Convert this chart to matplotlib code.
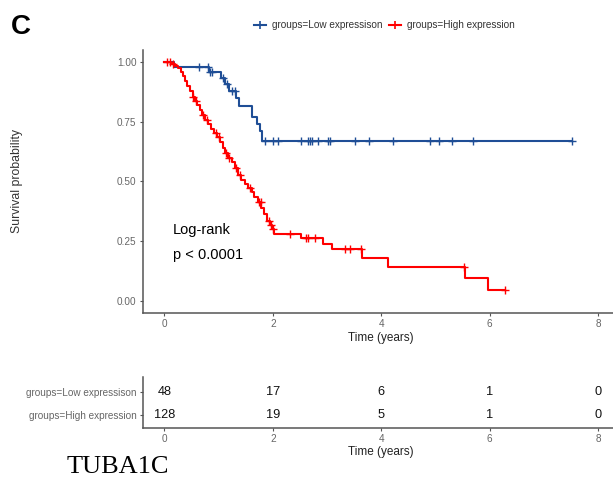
import numpy as np
import matplotlib.pyplot as plt
from matplotlib.lines import Line2D

# Kaplan-Meier steps (time in years, survival after step)
low_t = [0, 0.18, 0.82, 1.05, 1.11, 1.20, 1.33, 1.37, 1.61, 1.70, 1.76, 1.81, 7.53]
low_s = [1.0, 0.979, 0.958, 0.935, 0.91, 0.88, 0.85, 0.815, 0.77, 0.74, 0.71, 0.67, 0.67]
low_cens = [0.63, 0.81, 0.84, 0.87, 1.08, 1.15, 1.25, 1.30, 1.86, 2.01, 2.09, 2.52, 2.65,
            2.69, 2.73, 2.84, 3.02, 3.06, 3.52, 3.78, 4.22, 4.91, 5.07, 5.31, 5.70, 7.53]

high_t = [0, 0.12, 0.20, 0.25, 0.30, 0.34, 0.38, 0.42, 0.47, 0.52, 0.56, 0.60, 0.65, 0.70,
          0.75, 0.80, 0.86, 0.92, 0.98, 1.03, 1.08, 1.12, 1.18, 1.24, 1.30, 1.36, 1.42,
          1.48, 1.55, 1.61, 1.66, 1.72, 1.79, 1.84, 1.90, 1.95, 1.99, 2.03, 2.52, 2.92,
          3.10, 3.64, 4.13, 5.55, 5.98, 6.28]
high_s = [1.0, 0.992, 0.984, 0.976, 0.96, 0.944, 0.92, 0.90, 0.878, 0.856, 0.838, 0.82,
          0.80, 0.78, 0.76, 0.742, 0.722, 0.703, 0.686, 0.665, 0.642, 0.62, 0.60, 0.58,
          0.556, 0.528, 0.507, 0.49, 0.472, 0.456, 0.436, 0.412, 0.388, 0.362, 0.336,
          0.316, 0.30, 0.281, 0.265, 0.239, 0.215, 0.18, 0.143, 0.096, 0.046, 0.046]
high_cens = [0.05, 0.10, 0.16, 0.52, 0.58, 0.72, 0.78, 0.95, 1.00, 1.14, 1.20, 1.33, 1.39,
             1.58, 1.74, 1.78, 1.93, 1.97, 2.01, 2.32, 2.61, 2.65, 2.78, 3.33, 3.43, 3.63,
             5.52, 6.28]

risk_times = [0, 2, 4, 6, 8]
risk_low = [48, 17, 6, 1, 0]
risk_high = [128, 19, 5, 1, 0]

blue = '#1F4E96'
red = '#FF0000'
grey = '#666666'
font = 'Liberation Sans'
plt.rcParams['font.family'] = [font, 'DejaVu Sans']


def surv_at(t, s, x):
    idx = np.searchsorted(t, x, side='right') - 1
    return np.array(s)[idx]


fig = plt.figure(figsize=(6.13, 4.82), dpi=100)
ax = fig.add_axes([0.2328, 0.3515, 0.778, 0.5439])
ax2 = fig.add_axes([0.2328, 0.112, 0.778, 0.1065])

ax.step(low_t, low_s, where='post', color=blue, lw=1.5)
ax.step(high_t, high_s, where='post', color=red, lw=1.5)
ax.plot(low_cens, surv_at(low_t, low_s, low_cens), '+', color=blue, ms=6, mew=1.0)
ax.plot(high_cens, surv_at(high_t, high_s, high_cens), '+', color=red, ms=6, mew=1.0)

ax.set_xlim(-0.4, 8.4)
ax.set_ylim(-0.05, 1.05)
ax.set_xticks(risk_times)
ax.set_yticks([0, 0.25, 0.5, 0.75, 1.0])
ax.set_yticklabels(['0.00', '0.25', '0.50', '0.75', '1.00'])
ax.set_xlabel('Time (years)', fontsize=8.5, color='#222222', labelpad=2)
ax.set_ylabel('Survival probability', fontsize=8.8, color='#333333')
ax.yaxis.set_label_coords(-0.25, 0.5)
ax.text(0.15, 0.297, 'Log-rank', fontsize=10.5, va='center', ha='left')
ax.text(0.15, 0.192, 'p < 0.0001', fontsize=10.5, va='center', ha='left')

for i, t in enumerate(risk_times):
    ax2.text(t, 2, str(risk_low[i]), ha='center', va='center', fontsize=9.2, color='#111111')
    ax2.text(t, 1, str(risk_high[i]), ha='center', va='center', fontsize=9.2, color='#111111')
ax2.set_xlim(-0.4, 8.4)
ax2.set_ylim(0.45, 2.67)
ax2.set_xticks(risk_times)
ax2.set_yticks([1, 2])
ax2.set_yticklabels(['groups=High expression', 'groups=Low expressison'])
ax2.set_xlabel('Time (years)', fontsize=8.5, color='#222222', labelpad=1)

for a in (ax, ax2):
    for side in ('top', 'right'):
        a.spines[side].set_visible(False)
    for side in ('left', 'bottom'):
        a.spines[side].set_color('#555555')
        a.spines[side].set_linewidth(1.1)
    a.tick_params(length=2.5, width=0.8, color='#555555', pad=2, labelsize=7.2,
                  labelcolor=grey)

handles = [Line2D([0], [0], color=blue, marker='+', ms=6, mew=1.2, lw=1.5),
           Line2D([0], [0], color=red, marker='+', ms=6, mew=1.2, lw=1.5)]
fig.legend(handles, ['groups=Low expressison', 'groups=High expression'],
           loc='center', bbox_to_anchor=(0.627, 0.948), ncol=2, frameon=False,
           fontsize=7.2, handlelength=1.2, handletextpad=0.6, columnspacing=0.6,
           labelcolor='#333333')

fig.text(0.018, 0.945, 'C', fontsize=20, fontweight='bold', va='center', ha='left')
fig.text(0.108, 0.032, 'TUBA1C', fontsize=19, family='Liberation Serif', va='center', ha='left')

fig.savefig('out.png', dpi=100)
